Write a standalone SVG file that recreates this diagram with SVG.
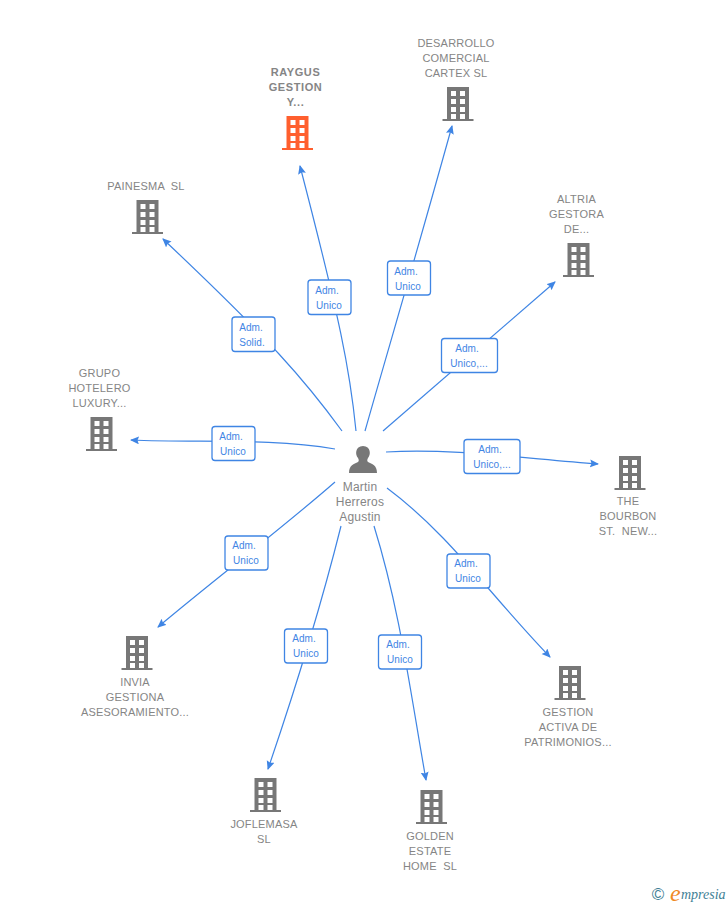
<svg xmlns="http://www.w3.org/2000/svg" width="728" height="905" viewBox="0 0 728 905">
<style>
text{font-family:"Liberation Sans",Arial,sans-serif}
.n{font-size:11px;fill:#858585;text-anchor:middle;letter-spacing:.2px}
.m{font-size:12px;fill:#858585;text-anchor:middle;letter-spacing:.2px}
.b{fill:#777}
.e{fill:none;stroke:#3f85e4;stroke-width:1.2}
.l{fill:#fff;stroke:#3f85e4;stroke-width:1.3}
.t{font-size:10px;fill:#3f85e4;text-anchor:middle;letter-spacing:.1px}
</style>
<defs>
<marker id="a" markerWidth="10" markerHeight="10" refX="8" refY="4" orient="auto" markerUnits="userSpaceOnUse"><path d="M0 0L9 4L0 8L1.500 4Z" fill="#3f85e4"/></marker>
<symbol id="bld" viewBox="0 0 32 34" width="32" height="34"><path fill-rule="evenodd" d="M5 0H27V32H31.500V34H.5V32H5ZM9 4V9H14V4ZM18 4V9H23V4ZM9 12V17H14V12ZM18 12V17H23V12ZM9 20V25H14V20ZM18 20V25H23V20ZM9 27V32H14V27ZM18 27V32H23V27Z"/></symbol>
</defs>
<rect width="728" height="905" fill="#fff"/>
<g id="connectors">
<path class="e" marker-end="url(#a)" d="M356 431C350 370 340 320 300 166"/>
<path class="e" marker-end="url(#a)" d="M365 431C385 360 412 270 452 126"/>
<path class="e" marker-end="url(#a)" d="M342 431C305 380 270 340 163 239"/>
<path class="e" marker-end="url(#a)" d="M383 431C430 390 490 338 555 282"/>
<path class="e" marker-end="url(#a)" d="M335 449C270 438 200 443 131 440"/>
<path class="e" marker-end="url(#a)" d="M386 452C450 448 520 458 598 464"/>
<path class="e" marker-end="url(#a)" d="M335 482C280 530 220 575 158 627"/>
<path class="e" marker-end="url(#a)" d="M387 488C450 535 490 595 550 657"/>
<path class="e" marker-end="url(#a)" d="M341 526C320 610 295 690 268 769"/>
<path class="e" marker-end="url(#a)" d="M374 526C400 610 410 690 426 780"/>
</g>
<g id="edge-labels">
<g><rect class="l" x="308" y="280" width="43" height="34.500" rx="3"/><text class="t" x="327" y="294">Adm.</text><text class="t" x="329" y="309">Unico</text></g>
<g><rect class="l" x="387.500" y="261" width="43" height="34" rx="3"/><text class="t" x="406" y="275">Adm.</text><text class="t" x="408" y="290">Unico</text></g>
<g><rect class="l" x="232" y="317" width="43" height="34.500" rx="3"/><text class="t" x="251" y="331">Adm.</text><text class="t" x="252" y="346">Solid.</text></g>
<g><rect class="l" x="441.500" y="338.500" width="56" height="34" rx="3"/><text class="t" x="467" y="352">Adm.</text><text class="t" x="469" y="367">Unico,...</text></g>
<g><rect class="l" x="212" y="426.500" width="43" height="34" rx="3"/><text class="t" x="231" y="440">Adm.</text><text class="t" x="233" y="455">Unico</text></g>
<g><rect class="l" x="464" y="439.500" width="56" height="34" rx="3"/><text class="t" x="490" y="453">Adm.</text><text class="t" x="492" y="468">Unico,...</text></g>
<g><rect class="l" x="225" y="536" width="43" height="34" rx="3"/><text class="t" x="244" y="549">Adm.</text><text class="t" x="246" y="564">Unico</text></g>
<g><rect class="l" x="447" y="554" width="43" height="34" rx="3"/><text class="t" x="466" y="567">Adm.</text><text class="t" x="468" y="582">Unico</text></g>
<g><rect class="l" x="284.500" y="629" width="43" height="34" rx="3"/><text class="t" x="304" y="642">Adm.</text><text class="t" x="306" y="657">Unico</text></g>
<g><rect class="l" x="378.500" y="635" width="43" height="34" rx="3"/><text class="t" x="398" y="648">Adm.</text><text class="t" x="400" y="663">Unico</text></g>
</g>
<g id="center"><path fill="#777" d="M349 473C349 465 354 464 358 462C359 461 359 460 358 458C355 455 355 446 363 446C371 446 371 455 368 458C367 460 367 461 368 462C372 464 377 465 377 473Z"/><text class="m" x="360" y="491">Martin</text><text class="m" x="360" y="506">Herreros</text><text class="m" x="360" y="521">Agustin</text></g>
<g id="raygus"><use href="#bld" x="281.500" y="116" fill="#ff5f2e"/><text class="n" x="295.500" y="76" font-weight="bold" style="letter-spacing:.6px">RAYGUS</text><text class="n" x="295.500" y="91" font-weight="bold" style="letter-spacing:.6px">GESTION</text><text class="n" x="295.500" y="106" font-weight="bold" style="letter-spacing:.6px">Y...</text></g>
<g id="desarrollo"><use href="#bld" class="b" x="442" y="87"/><text class="n" x="456" y="47">DESARROLLO</text><text class="n" x="456" y="62">COMERCIAL</text><text class="n" x="456" y="77">CARTEX SL</text></g>
<g id="painesma"><use href="#bld" class="b" x="131.500" y="200"/><text class="n" x="146" y="190" xml:space="preserve">PAINESMA  SL</text></g>
<g id="altria"><use href="#bld" class="b" x="562.500" y="243"/><text class="n" x="576.500" y="203">ALTRIA</text><text class="n" x="576.500" y="218">GESTORA</text><text class="n" x="576.500" y="233">DE...</text></g>
<g id="grupo"><use href="#bld" class="b" x="85.500" y="417"/><text class="n" x="99.500" y="377">GRUPO</text><text class="n" x="99.500" y="392">HOTELERO</text><text class="n" x="99.500" y="407">LUXURY...</text></g>
<g id="bourbon"><use href="#bld" class="b" x="614" y="456"/><text class="n" x="628" y="505">THE</text><text class="n" x="628" y="520">BOURBON</text><text class="n" x="628" y="535" xml:space="preserve">ST.  NEW...</text></g>
<g id="invia"><use href="#bld" class="b" x="121" y="636"/><text class="n" x="135" y="686">INVIA</text><text class="n" x="135" y="701">GESTIONA</text><text class="n" x="135" y="716">ASESORAMIENTO...</text></g>
<g id="gestion"><use href="#bld" class="b" x="554" y="666"/><text class="n" x="568" y="716">GESTION</text><text class="n" x="568" y="731">ACTIVA DE</text><text class="n" x="568" y="746">PATRIMONIOS...</text></g>
<g id="joflemasa"><use href="#bld" class="b" x="249.500" y="778"/><text class="n" x="264" y="828">JOFLEMASA</text><text class="n" x="264" y="843">SL</text></g>
<g id="golden"><use href="#bld" class="b" x="415.500" y="790"/><text class="n" x="430" y="840">GOLDEN</text><text class="n" x="430" y="855">ESTATE</text><text class="n" x="430" y="870" xml:space="preserve">HOME  SL</text></g>
<g id="logo"><text x="658" y="900" font-size="17" fill="#3f7f96" text-anchor="middle">©</text><text x="670" y="901" font-size="24" font-style="italic" fill="#f08a24" style="font-family:'Liberation Serif',serif">e</text><text x="681" y="899" font-size="14" font-style="italic" fill="#3f7f96" style="font-family:'Liberation Serif',serif">mpresia</text></g>
</svg>
